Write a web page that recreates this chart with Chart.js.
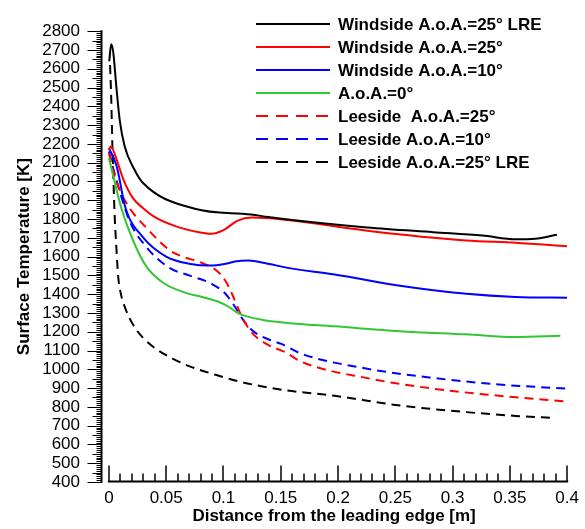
<!DOCTYPE html>
<html><head><meta charset="utf-8">
<script src="https://cdn.jsdelivr.net/npm/chart.js@4.4.0/dist/chart.umd.min.js"></script>
<style>html,body{margin:0;padding:0;background:#fff}</style>
</head><body>
<canvas id="c" width="585" height="529"></canvas>
<script>
// ---- tick labels ----
const xTickValues = [0, 0.05, 0.1, 0.15, 0.2, 0.25, 0.3, 0.35, 0.4];
const yTickValues = [400,500,600,700,800,900,1000,1100,1200,1300,1400,1500,1600,1700,1800,1900,2000,2100,2200,2300,2400,2500,2600,2700,2800];

// ---- series names ----
const seriesNames = [
  'Windside A.o.A.=25\u00B0 LRE',
  'Windside A.o.A.=25\u00B0',
  'Windside A.o.A.=10\u00B0',
  'A.o.A.=0\u00B0',
  'Leeside  A.o.A.=25\u00B0',
  'Leeside A.o.A.=10\u00B0',
  'Leeside A.o.A.=25\u00B0 LRE'
];

// ---- series values (distance [m], temperature [K]) ----
const xWindLRE = [0.0003,0.002,0.0038,0.0066,0.0095,0.0138,0.022,0.0296,0.075,0.124,0.139,0.168,0.2255,0.283,0.326,0.355,0.372,0.391];
const tWindLRE = [2640,2730,2687,2497,2324,2186,2066,1993,1855,1824,1811,1790,1755,1730,1712,1692,1695,1716];

const xWind25 = [0,0.0015,0.0067,0.0124,0.021,0.0296,0.041,0.0585,0.0786,0.089,0.1,0.112,0.1247,0.156,0.2255,0.312,0.355,0.4];
const tWind25 = [2165,2186,2118,2014,1911,1859,1807,1761,1730,1721,1741,1790,1808,1795,1738,1686,1674,1655];

const xWind10 = [0,0.0067,0.0145,0.0296,0.05,0.07,0.0887,0.1017,0.11,0.122,0.136,0.156,0.197,0.254,0.312,0.355,0.4];
const tWind10 = [2178,2083,1859,1704,1600,1562,1552,1562,1574,1579,1566,1540,1505,1445,1402,1385,1381];

const xAoA0 = [0,0.0108,0.021,0.0326,0.047,0.067,0.0815,0.0945,0.1045,0.113,0.1333,0.156,0.197,0.254,0.312,0.355,0.394];
const tAoA0 = [2125,1859,1687,1548,1462,1407,1385,1362,1333,1298,1264,1247,1229,1203,1186,1172,1178];

const xLee25 = [0,0.0067,0.018,0.0325,0.0527,0.0642,0.0815,0.0944,0.1017,0.1074,0.116,0.1247,0.139,0.1535,0.168,0.2255,0.283,0.3406,0.4];
const tLee25 = [2150,1997,1859,1755,1635,1600,1566,1523,1471,1402,1281,1195,1130,1092,1040,953,897,859,828];

const xLee10 = [0,0.006,0.018,0.0326,0.0527,0.07,0.09,0.1017,0.11,0.119,0.1276,0.139,0.1506,0.168,0.2255,0.283,0.3406,0.4];
const tLee10 = [2160,2020,1790,1652,1540,1500,1454,1402,1333,1247,1195,1160,1135,1083,1003,954,919,897];

const xLeeLRE = [0.001,0.002,0.003,0.004,0.005,0.0065,0.008,0.0105,0.014,0.021,0.0296,0.041,0.0556,0.07,0.093,0.113,0.133,0.152,0.197,0.254,0.312,0.355,0.39];
const tLeeLRE = [2620,2450,2200,2000,1820,1650,1500,1400,1330,1238,1169,1109,1057,1017,971,936,910,890,859,807,772,752,741];

const seriesX = [xWindLRE, xWind25, xWind10, xAoA0, xLee25, xLee10, xLeeLRE];
const seriesT = [tWindLRE, tWind25, tWind10, tAoA0, tLee25, tLee10, tLeeLRE];
const seriesColors = ['#000000','#ff0000','#0000ff','#33c633','#ff0000','#0000ff','#000000'];
const seriesDashed = [false,false,false,false,true,true,true];

const FONT = '"Liberation Sans", Arial, sans-serif';

const datasets = seriesNames.map((name, i) => ({
  label: name,
  data: seriesX[i].map((x, j) => ({x: x, y: seriesT[i][j]})),
  borderColor: seriesColors[i],
  backgroundColor: seriesColors[i],
  borderWidth: 2,
  borderDash: seriesDashed[i] ? [9, 6] : [],
  pointRadius: 0,
  fill: false,
  cubicInterpolationMode: 'monotone'
}));

const axesPlugin = {
  id: 'axesPlugin',
  afterDraw(chart) {
    const {ctx, scales: {x, y}, chartArea} = chart;
    ctx.save();
    ctx.strokeStyle = '#000';
    // y axis line
    const ax = chartArea.left + 0.5;
    const yTop = y.getPixelForValue(yTickValues[yTickValues.length - 1]);
    const yBot = y.getPixelForValue(yTickValues[0]);
    ctx.lineWidth = 2;
    ctx.beginPath(); ctx.moveTo(ax, yTop - 1); ctx.lineTo(ax, yBot + 1); ctx.stroke();
    ctx.lineWidth = 1;
    for (let v = yTickValues[0]; v <= yTickValues[yTickValues.length - 1]; v += 10) {
      const len = v % 100 === 0 ? 14 : (v % 50 === 0 ? 9 : 5);
      const py = Math.round(y.getPixelForValue(v)) + 0.5;
      ctx.beginPath(); ctx.moveTo(ax, py); ctx.lineTo(ax - len, py); ctx.stroke();
    }
    // x axis line
    const x0 = x.getPixelForValue(xTickValues[0]);
    const x1 = x.getPixelForValue(xTickValues[xTickValues.length - 1]);
    const by = chartArea.bottom - 0.5;
    ctx.lineWidth = 2;
    ctx.beginPath(); ctx.moveTo(x0 - 1, by); ctx.lineTo(x1 + 1, by); ctx.stroke();
    for (let k = 0; k <= 40; k++) {
      const v = k / 100;
      const len = k % 5 === 0 ? 16 : 8;
      const px = Math.round(x.getPixelForValue(v));
      ctx.lineWidth = 1.5;
      ctx.beginPath(); ctx.moveTo(px, by); ctx.lineTo(px, by - len); ctx.stroke();
    }
    // legend
    ctx.font = 'bold 17px ' + FONT;
    ctx.textBaseline = 'middle';
    ctx.textAlign = 'left';
    chart.data.datasets.forEach((ds, i) => {
      const ly = 24 + i * 23;
      ctx.strokeStyle = ds.borderColor;
      ctx.lineWidth = 2;
      ctx.setLineDash(ds.borderDash.length ? [12, 8] : []);
      ctx.beginPath(); ctx.moveTo(256, ly); ctx.lineTo(330, ly); ctx.stroke();
      ctx.setLineDash([]);
      ctx.fillStyle = '#000';
      ctx.fillText(ds.label, 338, ly + 1);
    });
    ctx.restore();
  }
};

new Chart(document.getElementById('c'), {
  type: 'line',
  data: { datasets: datasets },
  options: {
    responsive: false,
    animation: false,
    devicePixelRatio: 1,
    layout: { padding: { top: 18, right: 13, left: 0, bottom: 0 } },
    plugins: { legend: { display: false }, tooltip: { enabled: false } },
    scales: {
      x: {
        type: 'linear',
        min: -0.0069,
        max: 0.4,
        afterFit(s) { s.height = 47; },
        afterBuildTicks(s) { s.ticks = xTickValues.map(v => ({value: v})); },
        grid: { display: false, drawTicks: false },
        border: { display: false },
        ticks: {
          autoSkip: false,
          maxRotation: 0,
          padding: 6,
          color: '#000',
          font: { family: FONT, size: 17, lineHeight: 1.2 },
          callback: v => String(v)
        },
        title: {
          display: true,
          text: 'Distance from the leading edge [m]',
          color: '#000',
          font: { family: FONT, size: 17, weight: 'bold', lineHeight: 1.2 },
          padding: { top: 0, bottom: 2 }
        }
      },
      y: {
        type: 'linear',
        min: 400,
        max: 2800,
        afterFit(s) { s.width = 101; },
        afterBuildTicks(s) { s.ticks = yTickValues.map(v => ({value: v})); },
        grid: { display: false, drawTicks: false },
        border: { display: false },
        ticks: {
          autoSkip: false,
          padding: 21,
          color: '#000',
          font: { family: FONT, size: 17, lineHeight: 1.2 },
          callback: v => String(v)
        },
        title: {
          display: true,
          text: 'Surface Temperature [K]',
          color: '#000',
          font: { family: FONT, size: 17, weight: 'bold', lineHeight: 1.2 },
          padding: { top: 14, bottom: 0 }
        }
      }
    }
  },
  plugins: [axesPlugin]
});
</script>
</body></html>
